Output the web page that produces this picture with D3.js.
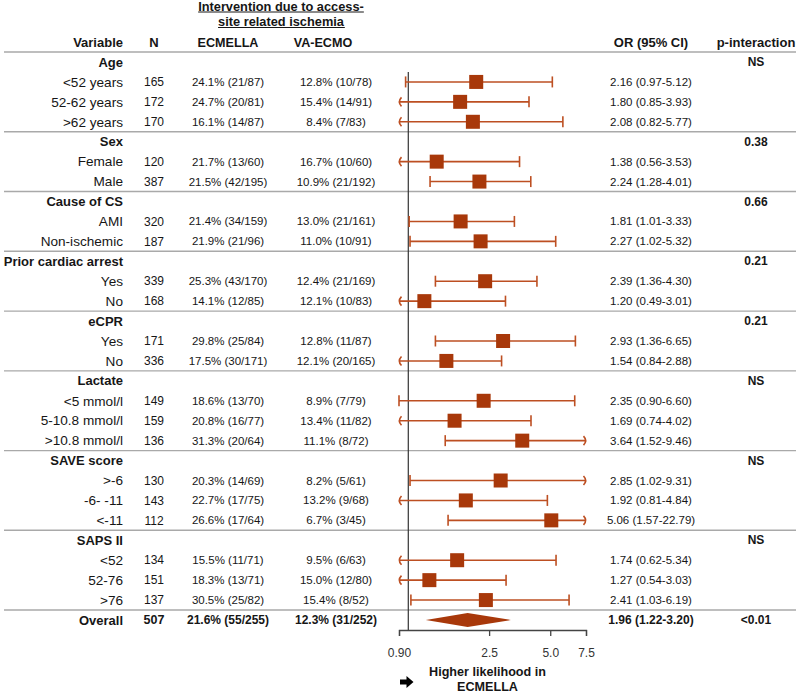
<!DOCTYPE html>
<html><head><meta charset="utf-8">
<script src="https://cdn.jsdelivr.net/npm/d3@7"></script>
<style>
body{margin:0;background:#fff}
svg{display:block;font-family:"Liberation Sans",Arial,Helvetica,sans-serif}
</style>
</head><body>
<svg id="chart" width="800" height="693"></svg>
<script>
// ---------- DATA ----------
const groupLabels = ["Age","Sex","Cause of CS","Prior cardiac arrest","eCPR","Lactate","SAVE score","SAPS II"];
const groupP = ["NS","0.38","0.66","0.21","0.21","NS","NS","NS"];
const subLabels = [
  ["<52 years","52-62 years",">62 years"],
  ["Female","Male"],
  ["AMI","Non-ischemic"],
  ["Yes","No"],
  ["Yes","No"],
  ["<5 mmol/l","5-10.8 mmol/l",">10.8 mmol/l"],
  [">-6","-6- -11","<-11"],
  ["<52","52-76",">76"]
];
const nValues = [[165,172,170],[120,387],[320,187],[339,168],[171,336],[149,159,136],[130,143,112],[134,151,137]];
const ecmellaText = [
  ["24.1% (21/87)","24.7% (20/81)","16.1% (14/87)"],
  ["21.7% (13/60)","21.5% (42/195)"],
  ["21.4% (34/159)","21.9% (21/96)"],
  ["25.3% (43/170)","14.1% (12/85)"],
  ["29.8% (25/84)","17.5% (30/171)"],
  ["18.6% (13/70)","20.8% (16/77)","31.3% (20/64)"],
  ["20.3% (14/69)","22.7% (17/75)","26.6% (17/64)"],
  ["15.5% (11/71)","18.3% (13/71)","30.5% (25/82)"]
];
const vaecmoText = [
  ["12.8% (10/78)","15.4% (14/91)","8.4% (7/83)"],
  ["16.7% (10/60)","10.9% (21/192)"],
  ["13.0% (21/161)","11.0% (10/91)"],
  ["12.4% (21/169)","12.1% (10/83)"],
  ["12.8% (11/87)","12.1% (20/165)"],
  ["8.9% (7/79)","13.4% (11/82)","11.1% (8/72)"],
  ["8.2% (5/61)","13.2% (9/68)","6.7% (3/45)"],
  ["9.5% (6/63)","15.0% (12/80)","15.4% (8/52)"]
];
const orValues = [[2.16,1.80,2.08],[1.38,2.24],[1.81,2.27],[2.39,1.20],[2.93,1.54],[2.35,1.69,3.64],[2.85,1.92,5.06],[1.74,1.27,2.41]];
const ciLower  = [[0.97,0.85,0.82],[0.56,1.28],[1.01,1.02],[1.36,0.49],[1.36,0.84],[0.90,0.74,1.52],[1.02,0.81,1.57],[0.62,0.54,1.03]];
const ciUpper  = [[5.12,3.93,5.77],[3.53,4.01],[3.33,5.32],[4.30,3.01],[6.65,2.88],[6.60,4.02,9.46],[9.31,4.84,22.79],[5.34,3.03,6.19]];

const overallLabel = "Overall";
const overallN = 507;
const overallEcmella = "21.6% (55/255)";
const overallVaecmo = "12.3% (31/252)";
const overallOR = [1.96, 1.22, 3.20];
const overallP = "<0.01";

const tickValues = [0.9, 2.5, 5.0, 7.5];
const tickLabels = ["0.90","2.5","5.0","7.5"];

// ---------- BUILD ROWS ----------
const rows = [];
const separatorsAfter = [];
groupLabels.forEach((g, gi) => {
  rows.push({type:"group", label:g, p:groupP[gi]});
  subLabels[gi].forEach((s, si) => {
    rows.push({type:"sub", label:s, n:nValues[gi][si], ecm:ecmellaText[gi][si], va:vaecmoText[gi][si],
      or:orValues[gi][si], lo:ciLower[gi][si], hi:ciUpper[gi][si]});
  });
  separatorsAfter.push(rows.length - 1);
});
rows.push({type:"overall", label:overallLabel, n:overallN, ecm:overallEcmella, va:overallVaecmo,
  or:overallOR[0], lo:overallOR[1], hi:overallOR[2], p:overallP});

// ---------- DRAW ----------
const svg = d3.select("#chart");
const TXT = "#161616";
const MARK = "#a8380a";
const CI = "#bd4f22";

const y = d3.scaleLinear().domain([0, rows.length - 1]).range([62, 620]);
const step = y(1) - y(0);
const x = d3.scaleLog().domain([tickValues[0], tickValues[tickValues.length-1]]).range([399, 586]);

const col = {label:123, n:154, ecm:228, va:336, or:651, p:756, ecmHead:228, vaHead:323};

// Title (underlined)
const title = svg.append("g").attr("font-weight","bold").attr("font-size",12.8).attr("fill",TXT);
["Intervention due to access-","site related ischemia"].forEach((t,i) => {
  const tx = title.append("text").attr("x",281).attr("y",10.5 + i*15.5).attr("text-anchor","middle").text(t);
  const bb = tx.node().getBBox();
  title.append("line").attr("x1",bb.x).attr("x2",bb.x+bb.width)
    .attr("y1",12 + i*15.5).attr("y2",12 + i*15.5).attr("stroke",TXT).attr("stroke-width",1);
});

// Column headers
const head = svg.append("g").attr("font-weight","bold").attr("font-size",13).attr("fill",TXT);
head.append("text").attr("x",col.label).attr("y",47).attr("text-anchor","end").text("Variable");
head.append("text").attr("x",col.n).attr("y",47).attr("text-anchor","middle").text("N");
head.append("text").attr("x",col.ecmHead).attr("y",47).attr("text-anchor","middle").attr("font-size",12.6).text("ECMELLA");
head.append("text").attr("x",col.vaHead).attr("y",47).attr("text-anchor","middle").attr("font-size",12.6).text("VA-ECMO");
head.append("text").attr("x",col.or).attr("y",47).attr("text-anchor","middle").text("OR (95% CI)");
head.append("text").attr("x",col.p).attr("y",47).attr("text-anchor","middle").text("p-interaction");

// Separators
const sepY = [y(0) - step/2].concat(separatorsAfter.map(i => y(i) + step/2));
svg.append("g").selectAll("line").data(sepY).join("line")
  .attr("x1",4).attr("x2",796).attr("y1",d=>d).attr("y2",d=>d)
  .attr("stroke","#a9a9a9").attr("stroke-width",1.4);

// Reference line at OR = 1
svg.append("line").attr("x1",x(1)).attr("x2",x(1)).attr("y1",72).attr("y2",630)
  .attr("stroke","#333").attr("stroke-width",1.2);

// Row texts
const rowG = svg.append("g").selectAll("g").data(rows).join("g")
  .attr("transform",(d,i)=>`translate(0,${y(i)})`);

rowG.filter(d=>d.type==="group").append("text")
  .attr("x",col.label).attr("dy","0.35em").attr("text-anchor","end")
  .attr("font-weight","bold").attr("font-size",13).attr("fill",TXT).text(d=>d.label);
rowG.filter(d=>d.type==="group").append("text")
  .attr("x",col.p).attr("dy","0.35em").attr("text-anchor","middle")
  .attr("font-weight","bold").attr("font-size",12).attr("fill",TXT).text(d=>d.p);

const dataRows = rowG.filter(d=>d.type!=="group");
const isB = d => d.type==="overall";
dataRows.append("text").attr("x",col.label).attr("dy","0.35em").attr("text-anchor","end")
  .attr("font-weight",d=>isB(d)?"bold":"normal").attr("font-size",d=>isB(d)?13:13.6).attr("fill",TXT).text(d=>d.label);
dataRows.append("text").attr("x",col.n).attr("dy","0.35em").attr("text-anchor","middle")
  .attr("font-weight",d=>isB(d)?"bold":"normal").attr("font-size",d=>isB(d)?12.5:12).attr("fill",TXT).text(d=>d.n);
dataRows.append("text").attr("x",col.ecm).attr("dy","0.35em").attr("text-anchor","middle")
  .attr("font-weight",d=>isB(d)?"bold":"normal").attr("font-size",d=>isB(d)?12:11.5).attr("fill",TXT).text(d=>d.ecm);
dataRows.append("text").attr("x",col.va).attr("dy","0.35em").attr("text-anchor","middle")
  .attr("font-weight",d=>isB(d)?"bold":"normal").attr("font-size",d=>isB(d)?12:11.5).attr("fill",TXT).text(d=>d.va);
dataRows.append("text").attr("x",col.or).attr("dy","0.35em").attr("text-anchor","middle")
  .attr("font-weight",d=>isB(d)?"bold":"normal").attr("font-size",d=>isB(d)?12:11.5).attr("fill",TXT)
  .text(d=>`${d.or.toFixed(2)} (${d.lo.toFixed(2)}-${d.hi.toFixed(2)})`);
rowG.filter(d=>d.type==="overall").append("text")
  .attr("x",col.p).attr("dy","0.35em").attr("text-anchor","middle")
  .attr("font-weight","bold").attr("font-size",12).attr("fill",TXT).text(d=>d.p);

// CI lines
const [dMin, dMax] = x.domain();
const subRows = rowG.filter(d=>d.type==="sub");
subRows.append("line")
  .attr("x1",d=>x(Math.max(d.lo,dMin))).attr("x2",d=>x(Math.min(d.hi,dMax)))
  .attr("stroke",CI).attr("stroke-width",1.6);
subRows.append("path")
  .attr("d",d=>{
    const xl = x(Math.max(d.lo,dMin));
    return d.lo < dMin ? `M${xl+2.5},-4.5Q${xl-1.8},0 ${xl+2.5},4.5` : `M${xl},-5.5V5.5`;
  }).attr("fill","none").attr("stroke",CI).attr("stroke-width",1.6);
subRows.append("path")
  .attr("d",d=>{
    const xr = x(Math.min(d.hi,dMax));
    return d.hi > dMax ? `M${xr-2.5},-4.5Q${xr+1.8},0 ${xr-2.5},4.5` : `M${xr},-5.5V5.5`;
  }).attr("fill","none").attr("stroke",CI).attr("stroke-width",1.6);
subRows.append("rect")
  .attr("x",d=>x(d.or)-7).attr("y",-7).attr("width",14).attr("height",14).attr("fill",MARK);

// Overall diamond
rowG.filter(d=>d.type==="overall").append("path")
  .attr("d",d=>`M${x(d.lo)},0L${x(d.or)},-7L${x(d.hi)},0L${x(d.or)},7Z`).attr("fill",MARK);

// Axis
const axis = d3.axisBottom(x).tickValues(tickValues).tickFormat((d,i)=>tickLabels[i])
  .tickSize(6).tickSizeOuter(6).tickPadding(12);
const ax = svg.append("g").attr("transform","translate(0,630)").call(axis);
ax.select(".domain").attr("stroke","#444").attr("stroke-width",1.3);
ax.selectAll(".tick line").attr("stroke","#444").attr("stroke-width",1.3);
ax.selectAll(".tick text").attr("font-size",12).attr("fill","#333").attr("font-family","Liberation Sans, Arial, sans-serif");

// Direction label
const dir = svg.append("g").attr("font-weight","bold").attr("font-size",12.6).attr("fill",TXT);
dir.append("text").attr("x",487.5).attr("y",676).attr("text-anchor","middle").text("Higher likelihood in");
dir.append("text").attr("x",487.5).attr("y",690.5).attr("text-anchor","middle").text("ECMELLA");
svg.append("path").attr("d","M400,679.5H406.5V676L413.5,682L406.5,688V684.5H400Z").attr("fill","#000");
</script>
</body></html>
